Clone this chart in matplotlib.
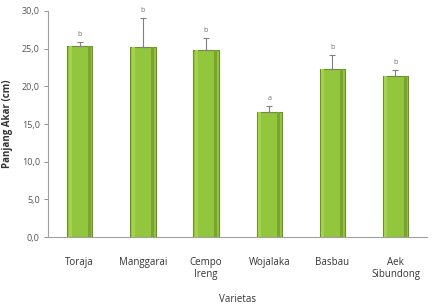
import matplotlib.pyplot as plt
import numpy as np

# data
varietas = ["Toraja", "Manggarai", "Cempo\nIreng", "Wojalaka", "Basbau", "Aek\nSibundong"]
panjang = [25.4, 25.2, 24.8, 16.6, 22.3, 21.4]
galat = [0.5, 3.9, 1.6, 0.8, 1.9, 0.8]
notasi = ["b", "b", "b", "a", "b", "b"]
yticks = [0, 5, 10, 15, 20, 25, 30]

plt.rcParams['font.family'] = ['Open Sans', 'DejaVu Sans']

fig = plt.figure(figsize=(4.34, 3.04), dpi=100)
ax = fig.add_axes([0.111, 0.22, 0.873, 0.744])

x = np.arange(len(varietas))
bw = 0.40
ax.bar(x, panjang, width=bw, color='#92c63c', edgecolor='#6f8f2c', linewidth=0.8, zorder=2)
# sisi gelap kanan biar mirip gradien excel
ax.bar(x + bw * 0.38, panjang, width=bw * 0.12, color='#7aa333', linewidth=0, zorder=3)
ax.bar(x - bw * 0.38, panjang, width=bw * 0.12, color='#a4d24c', linewidth=0, zorder=3)

ax.errorbar(x, panjang, yerr=[np.zeros(len(galat)), galat], fmt='none',
            ecolor='#808080', elinewidth=0.8, capsize=2, capthick=0.8, zorder=4)

for i in range(len(x)):
    ax.text(x[i], panjang[i] + galat[i] + 1.0, notasi[i], ha='center', va='center',
            fontsize=5, color='#707070')

ax.set_xlim(-0.5, len(varietas) - 0.5)
ax.set_ylim(0, 30)
ax.set_yticks(yticks)
ax.yaxis.set_major_formatter(plt.FuncFormatter(lambda v, p: ("%.1f" % v).replace('.', ',')))
ax.set_xticks(x)
ax.set_xticklabels(varietas)

ax.tick_params(axis='y', labelsize=6.5, colors='#808080', labelcolor='#555555', length=3, width=0.6, pad=3)
ax.tick_params(axis='x', labelsize=7, colors='#808080', labelcolor='#333333', length=0, pad=14, )
for s in ['top', 'right']:
    ax.spines[s].set_visible(False)
for s in ['left', 'bottom']:
    ax.spines[s].set_color('#a0a0a0')
    ax.spines[s].set_linewidth(0.8)

ax.set_ylabel("Panjang Akar (cm)", fontsize=7, fontweight='bold', color='#333333', labelpad=6)
ax.set_xlabel("Varietas", fontsize=7, color='#333333', labelpad=10)

fig.savefig("out.png", dpi=100)
